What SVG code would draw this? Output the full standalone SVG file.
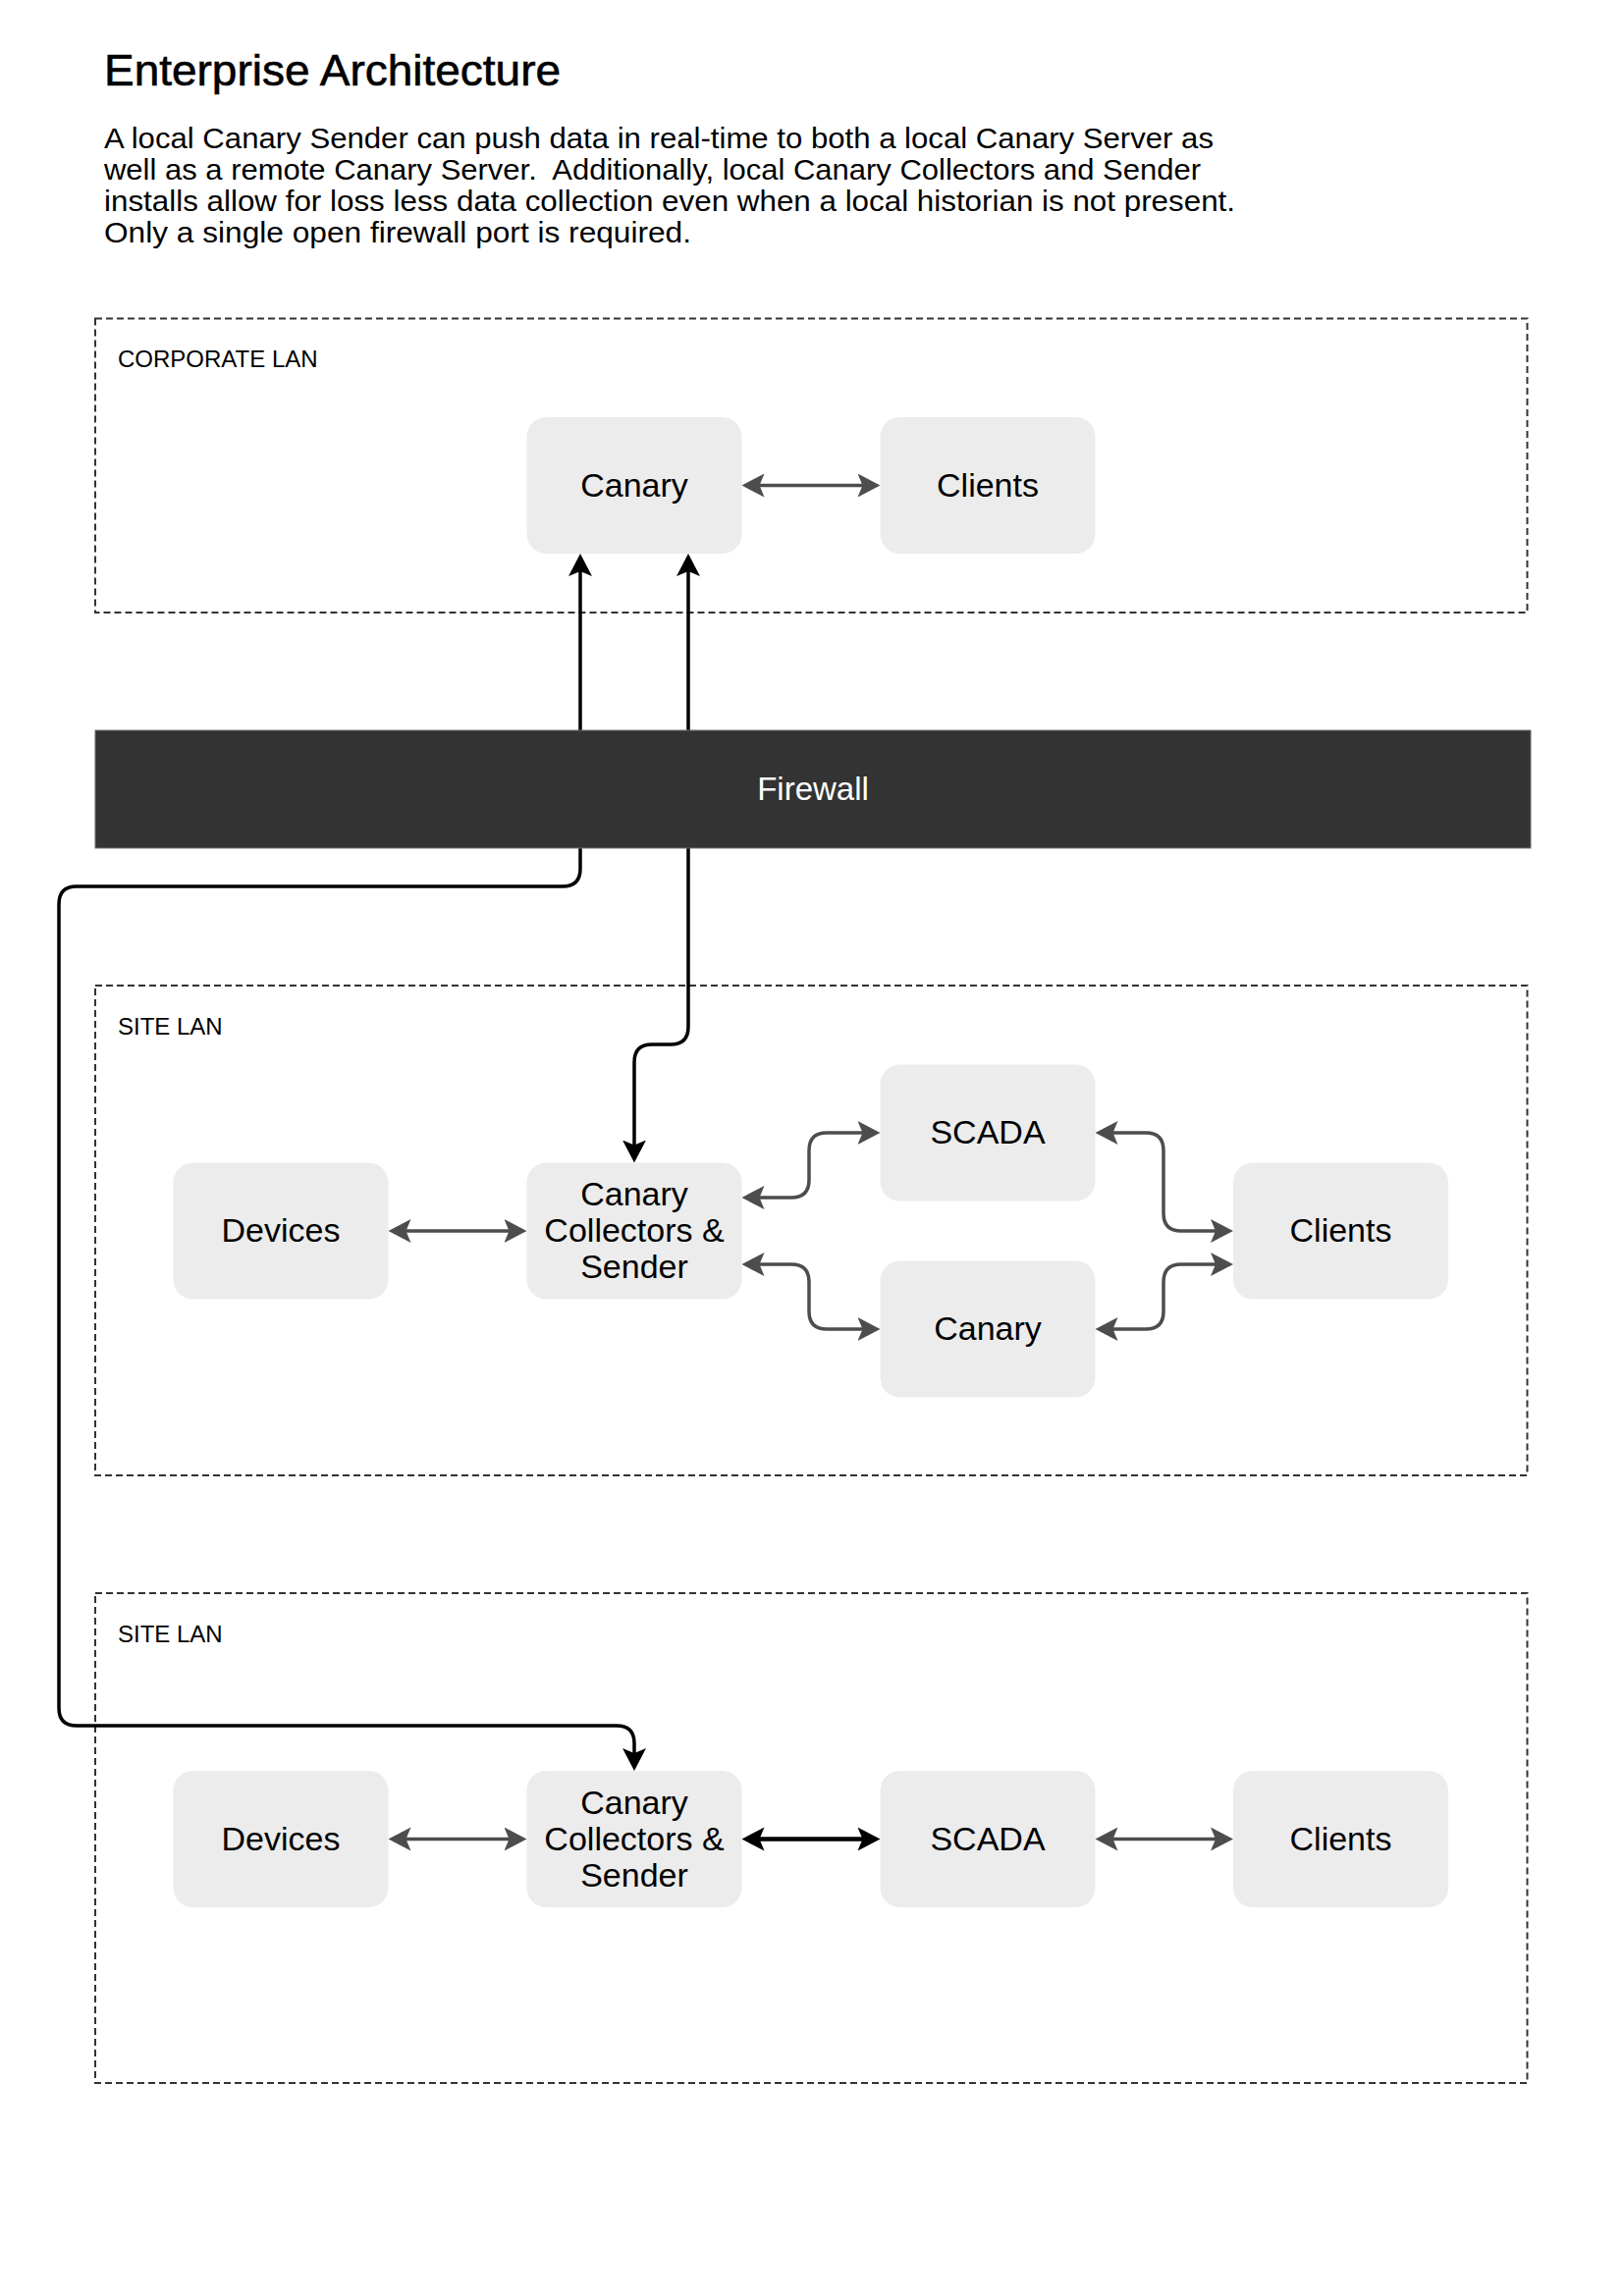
<svg xmlns="http://www.w3.org/2000/svg" width="1653" height="2339" viewBox="0 0 1653 2339">
<style>
text{font-family:"Liberation Sans",Arial,sans-serif;fill:#000}
.lan{fill:none;stroke:#333;stroke-width:2;stroke-dasharray:7 4}
.lanlbl{font-size:24px}
.node rect{fill:#ececec}
.node text{font-size:34px;text-anchor:middle}
.g{fill:none;stroke:#4d4d4d;stroke-width:3.5}
.b{fill:none;stroke:#000;stroke-width:3.5}
.bw{fill:none;stroke:#000;stroke-width:4.5}
</style>
<defs>
<marker id="ag" markerUnits="userSpaceOnUse" markerWidth="24" markerHeight="26" viewBox="0 -13 24 26" refX="8" refY="0" orient="auto-start-reverse"><path d="M0,-12 L23,0 L0,12 L5,0 Z" fill="#4d4d4d"/></marker>
<marker id="ab" markerUnits="userSpaceOnUse" markerWidth="24" markerHeight="26" viewBox="0 -13 24 26" refX="8" refY="0" orient="auto-start-reverse"><path d="M0,-12 L23,0 L0,12 L5,0 Z" fill="#000"/></marker>
</defs>
<rect width="1653" height="2339" fill="#fff"/>
<g id="header">
<text x="106" y="86.5" font-size="44" textLength="465" lengthAdjust="spacingAndGlyphs" stroke="#000" stroke-width="0.6">Enterprise Architecture</text>
<text x="106" y="151" font-size="29" textLength="1130" lengthAdjust="spacingAndGlyphs">A local Canary Sender can push data in real-time to both a local Canary Server as</text>
<text x="106" y="183" font-size="29" textLength="1117" lengthAdjust="spacingAndGlyphs" xml:space="preserve">well as a remote Canary Server.  Additionally, local Canary Collectors and Sender</text>
<text x="106" y="215" font-size="29" textLength="1152" lengthAdjust="spacingAndGlyphs">installs allow for loss less data collection even when a local historian is not present.</text>
<text x="106" y="247" font-size="29" textLength="598" lengthAdjust="spacingAndGlyphs">Only a single open firewall port is required.</text>
</g>
<g id="corporate-lan">
<rect class="lan" x="97" y="324.5" width="1458.5" height="299.5"/>
<text class="lanlbl" x="120" y="374">CORPORATE LAN</text>
</g>
<g id="site-lan-1">
<rect class="lan" x="97" y="1004" width="1458.5" height="499"/>
<text class="lanlbl" x="120" y="1054">SITE LAN</text>
</g>
<g id="site-lan-2">
<rect class="lan" x="97" y="1623" width="1458.5" height="499"/>
<text class="lanlbl" x="120" y="1673">SITE LAN</text>
</g>
<g id="connectors">
<path class="g" d="M770.5 494.5 H881.5" marker-start="url(#ag)" marker-end="url(#ag)"/>
<path class="b" d="M591 579 V885 Q591 903 573 903 H78 Q60 903 60 921 V1740 Q60 1758 78 1758 H628 Q646 1758 646 1776 V1789" marker-start="url(#ab)" marker-end="url(#ab)"/>
<path class="b" d="M701 579 V1046 Q701 1064 683 1064 H664 Q646 1064 646 1082 V1169.5" marker-start="url(#ab)" marker-end="url(#ab)"/>
<path class="g" d="M410.5 1254 H521.5" marker-start="url(#ag)" marker-end="url(#ag)"/>
<path class="g" d="M770.5 1220 H806 Q824 1220 824 1202 V1172 Q824 1154 842 1154 H881.5" marker-start="url(#ag)" marker-end="url(#ag)"/>
<path class="g" d="M770.5 1288 H806 Q824 1288 824 1306 V1336 Q824 1354 842 1354 H881.5" marker-start="url(#ag)" marker-end="url(#ag)"/>
<path class="g" d="M1130.5 1154 H1167 Q1185 1154 1185 1172 V1236 Q1185 1254 1203 1254 H1241" marker-start="url(#ag)" marker-end="url(#ag)"/>
<path class="g" d="M1130.5 1354 H1167 Q1185 1354 1185 1336 V1306 Q1185 1288 1203 1288 H1241" marker-start="url(#ag)" marker-end="url(#ag)"/>
<path class="g" d="M410.5 1873.5 H521.5" marker-start="url(#ag)" marker-end="url(#ag)"/>
<path class="bw" d="M770.5 1873.5 H881.5" marker-start="url(#ab)" marker-end="url(#ab)"/>
<path class="g" d="M1130.5 1873.5 H1241" marker-start="url(#ag)" marker-end="url(#ag)"/>
</g>
<g id="firewall">
<rect x="97" y="744" width="1462" height="120" fill="#333" stroke="#6e6e6e" stroke-width="1"/>
<text x="828" y="815" font-size="33" text-anchor="middle" style="fill:#fff">Firewall</text>
</g>
<g id="corp-canary" class="node"><rect x="536.5" y="425" width="219" height="139" rx="20"/><text x="646" y="506">Canary</text></g>
<g id="corp-clients" class="node"><rect x="896.5" y="425" width="219" height="139" rx="20"/><text x="1006" y="506">Clients</text></g>
<g id="s1-devices" class="node"><rect x="176.5" y="1184.5" width="219" height="139" rx="20"/><text x="286" y="1265">Devices</text></g>
<g id="s1-collector" class="node"><rect x="536.5" y="1184.5" width="219" height="139" rx="20"/><text x="646" y="1228">Canary</text><text x="646" y="1265">Collectors &amp;</text><text x="646" y="1302">Sender</text></g>
<g id="s1-scada" class="node"><rect x="896.5" y="1084.5" width="219" height="139" rx="20"/><text x="1006" y="1165">SCADA</text></g>
<g id="s1-canary" class="node"><rect x="896.5" y="1284.5" width="219" height="139" rx="20"/><text x="1006" y="1365">Canary</text></g>
<g id="s1-clients" class="node"><rect x="1256" y="1184.5" width="219" height="139" rx="20"/><text x="1365.5" y="1265">Clients</text></g>
<g id="s2-devices" class="node"><rect x="176.5" y="1804" width="219" height="139" rx="20"/><text x="286" y="1885">Devices</text></g>
<g id="s2-collector" class="node"><rect x="536.5" y="1804" width="219" height="139" rx="20"/><text x="646" y="1848">Canary</text><text x="646" y="1885">Collectors &amp;</text><text x="646" y="1922">Sender</text></g>
<g id="s2-scada" class="node"><rect x="896.5" y="1804" width="219" height="139" rx="20"/><text x="1006" y="1885">SCADA</text></g>
<g id="s2-clients" class="node"><rect x="1256" y="1804" width="219" height="139" rx="20"/><text x="1365.5" y="1885">Clients</text></g>
</svg>
